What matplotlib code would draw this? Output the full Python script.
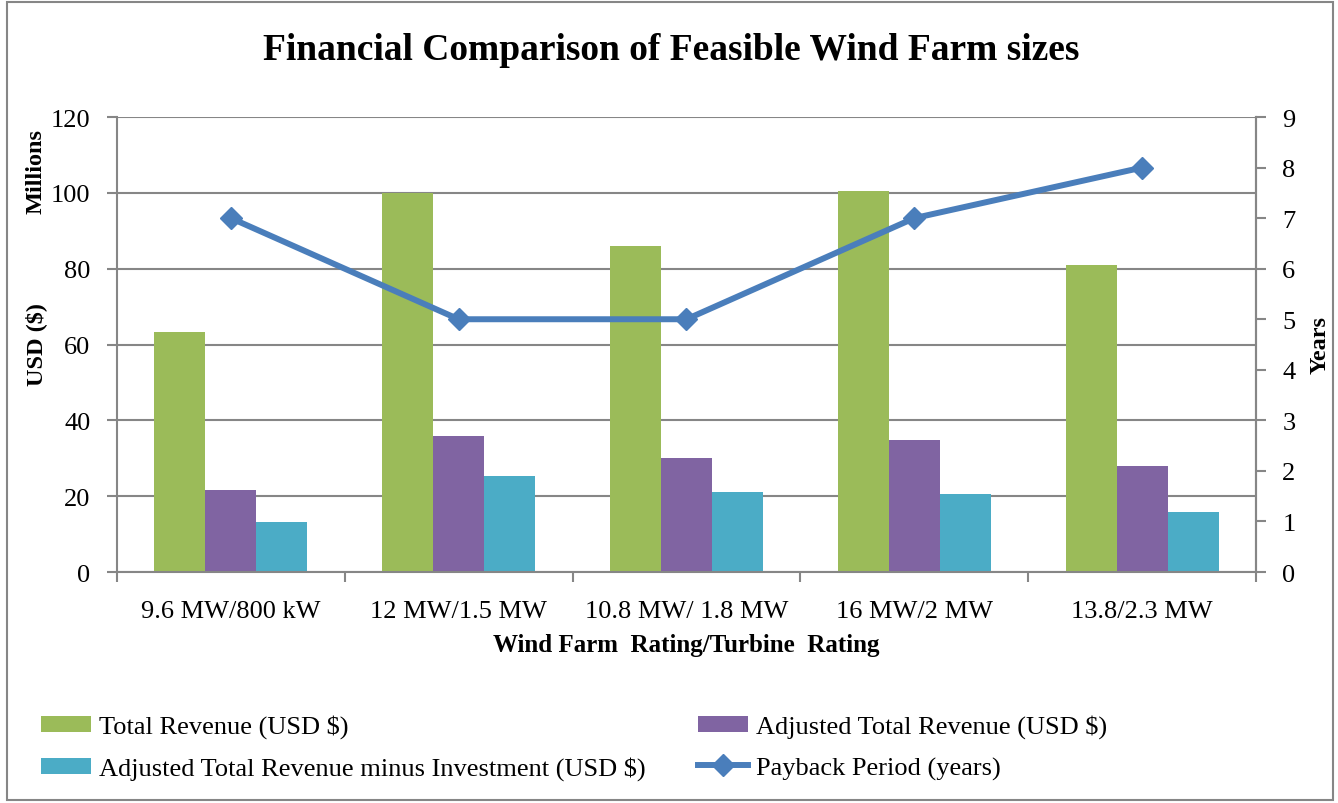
import numpy as np
import matplotlib.pyplot as plt
from matplotlib.patches import Rectangle

plt.rcParams['font.family'] = ['Liberation Serif', 'DejaVu Serif']

# chart data
categories = ["9.6 MW/800 kW", "12 MW/1.5 MW", "10.8 MW/ 1.8 MW", "16 MW/2 MW", "13.8/2.3 MW"]
total_revenue = [63.2, 100.0, 85.9, 100.6, 81.1]
adjusted_revenue = [21.7, 35.9, 30.1, 34.8, 28.0]
adjusted_minus_invest = [13.2, 25.3, 21.1, 20.6, 15.9]
payback_years = [7, 5, 5, 7, 8]

GREEN = '#9bbb59'
PURPLE = '#8064a2'
CYAN = '#4bacc6'
BLUE = '#4a7ebb'
GRID = '#868686'

fig = plt.figure(figsize=(13.38, 8.04), dpi=100)
ax = fig.add_axes([0.0874, 0.2873, 0.8513, 0.5659])
ax2 = ax.twinx()

x = np.arange(len(categories))
w = 0.224
b1 = ax.bar(x - w, total_revenue, w, color=GREEN, label='Total Revenue (USD $)')
b2 = ax.bar(x, adjusted_revenue, w, color=PURPLE, label='Adjusted Total Revenue (USD $)')
b3 = ax.bar(x + w, adjusted_minus_invest, w, color=CYAN,
            label='Adjusted Total Revenue minus Investment (USD $)')
ln, = ax2.plot(x, payback_years, color=BLUE, lw=4.3, marker='D', markersize=11,
               label='Payback Period (years)')

# primary axis
ax.set_xlim(-0.5, len(categories) - 0.5)
ax.set_ylim(0, 120)
ax.set_yticks(np.arange(0, 121, 20))
ax.set_axisbelow(True)
ax.yaxis.grid(True, color=GRID, lw=1.5)
ax.set_xticks(np.arange(-0.5, len(categories), 1.0))
ax.set_xticklabels([])
ax.set_xticks(x, minor=True)
ax.set_xticklabels(categories, minor=True, fontsize=19)
ax.tick_params(axis='x', which='minor', length=0, pad=20)
ax.tick_params(axis='x', which='major', length=7, width=1.5, color=GRID, direction='out')
ax.tick_params(axis='y', labelsize=19, length=7, width=1.5, color=GRID, pad=12)
for s in ax.spines.values():
    s.set_color(GRID)
    s.set_linewidth(1.5)
ax.spines['top'].set_visible(False)

# secondary axis
ax2.set_ylim(0, 9)
ax2.set_yticks(np.arange(0, 10, 1))
ax2.tick_params(axis='y', labelsize=19, length=7, width=1.5, color=GRID, pad=12)
for s in ax2.spines.values():
    s.set_visible(False)
ax2.spines['right'].set_visible(True)
ax2.spines['right'].set_color(GRID)
ax2.spines['right'].set_linewidth(1.5)

# texts
fig.text(671 / 1338, 1 - 50 / 804, 'Financial Comparison of Feasible Wind Farm sizes',
         ha='center', va='center', fontsize=27, fontweight='bold')
fig.text(36 / 1338, 1 - 345 / 804, 'USD ($)', rotation=90, ha='center', va='center',
         fontsize=17.5, fontweight='bold')
fig.text(36 / 1338, 1 - 172 / 804, 'Millions', rotation=90, ha='center', va='center',
         fontsize=17.5, fontweight='bold')
fig.text(1320 / 1338, 1 - 345 / 804, 'Years', rotation=90, ha='center', va='center',
         fontsize=17.5, fontweight='bold')
fig.text(686 / 1338, 1 - 646 / 804, 'Wind Farm  Rating/Turbine  Rating', ha='center',
         va='center', fontsize=18, fontweight='bold')

# legend (column-first fill)
fig.legend([b1, b3, b2, ln],
           [b1.get_label(), b3.get_label(), b2.get_label(), ln.get_label()],
           ncol=2, loc='upper left', bbox_to_anchor=(30 / 1338, 1 - 705 / 804),
           frameon=False, fontsize=19, handlelength=1.9, handleheight=0.55,
           handletextpad=0.3, columnspacing=2.0, labelspacing=0.68, borderaxespad=0)

# chart border
fig.patches.append(Rectangle((0.005, 0.004), 0.991, 0.992, transform=fig.transFigure,
                             fill=False, edgecolor=GRID, lw=1.5))

fig.savefig('out.png', dpi=100)
